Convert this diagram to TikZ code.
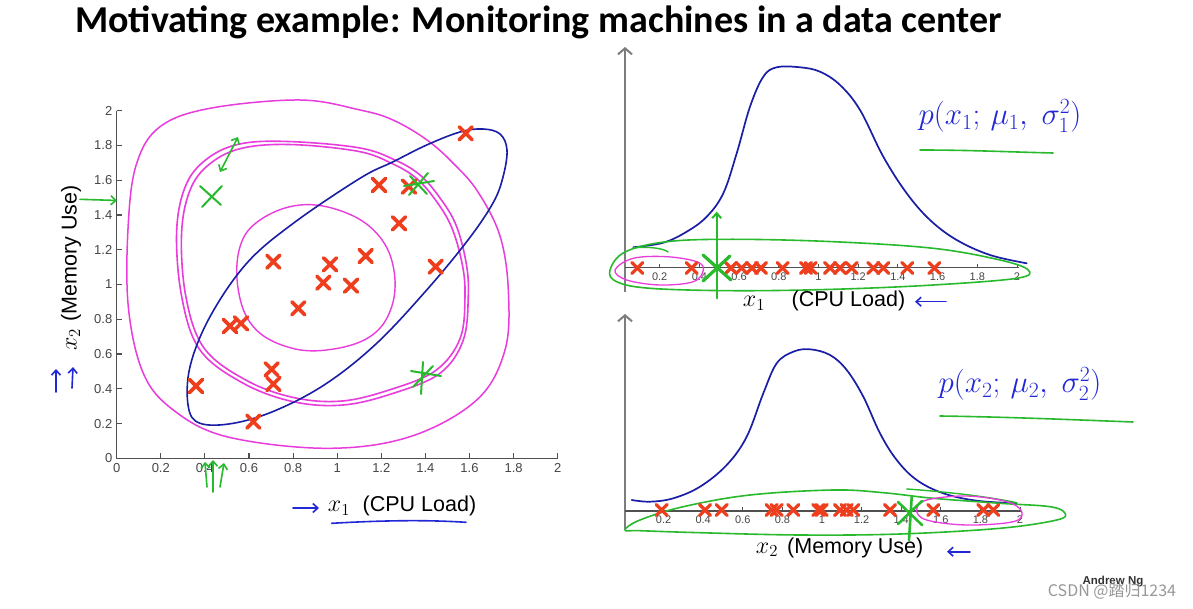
\documentclass[tikz,border=0pt]{standalone}
\usepackage{fix-cm}
\usepackage{fontspec}
\setsansfont{Liberation Sans}
\newfontfamily\titlef{Carlito}
\newfontfamily\cjk{Noto Sans CJK SC}
\usetikzlibrary{arrows.meta}
\definecolor{redc}{RGB}{238,62,30}
\definecolor{grn}{RGB}{40,185,45}
\definecolor{mag}{RGB}{232,60,220}
\definecolor{bcurve}{RGB}{25,30,165}
\definecolor{bhand}{RGB}{35,40,215}
\definecolor{axc}{RGB}{80,80,80}
\definecolor{tickc}{RGB}{70,70,70}
\definecolor{garrow}{RGB}{125,125,125}
\tikzset{
  rx/.pic={\draw[redc,line width=3.6pt,line cap=round] (-6.5,-6.5)--(6.5,6.5) (-6.5,6.5)--(6.5,-6.5);},
  rxs/.pic={\draw[redc,line width=3.2pt,line cap=round] (-5.5,-5.5)--(5.5,5.5) (-5.5,5.5)--(5.5,-5.5);},
  tickl/.style={font=\sffamily\fontsize{13}{13}\selectfont, text=tickc, inner sep=0pt},
  tickr/.style={font=\sffamily\fontsize{11}{11}\selectfont, text=tickc, inner sep=0pt},
  hand/.style={line width=1.7pt, line cap=round, line join=round},
  barb/.style={-{Straight Barb[length=5pt,width=9pt]}},
  axlab/.style={font=\sffamily\fontsize{21.5}{22}\selectfont, inner sep=0pt},
  mathlab/.style={font=\fontsize{24}{26}\selectfont, inner sep=0pt},
}
\begin{document}
\begin{tikzpicture}[x=1pt,y=-1pt]
\useasboundingbox (0,0) rectangle (1193,609);
\fill[white] (0,0) rectangle (1193,609);

% title
\node[anchor=base west, inner sep=0pt, font={\titlef\bfseries\fontsize{38}{40}\selectfont}] (title) at (75,33) {Motivating example: Monitoring machines in a data center};

% ---------------- left scatter plot ----------------
\draw[axc, line width=1.3pt] (116.7,110.7) -- (116.7,458.3) -- (557.7,458.3);
\foreach \i/\t in {0/0,1/0.2,2/0.4,3/0.6,4/0.8,5/1,6/1.2,7/1.4,8/1.6,9/1.8,10/2}{
  \draw[axc, line width=1.1pt] ({116.7+44.1*\i},458.3) -- ++(0,-5);
  \node[tickl, anchor=north] (lx\i) at ({116.7+44.1*\i},463) {\t};
  \draw[axc, line width=1.1pt] (116.7,{458.3-34.76*\i}) -- ++(5,0);
  \node[tickl, anchor=east] (ly\i) at (112.5,{458.3-34.76*\i}) {\t};
}

% magenta contours
\draw[mag, hand, line width=1.5pt] plot[smooth cycle, tension=0.6] coordinates {
 (360,110) (300,100) (210,108.3) (160,126.7) (136.7,163.3) (128.3,223.3) (128.3,306.7)
 (143.3,373.3) (173.3,410) (226.7,436.7) (326.7,448.3) (410,436.7) (476.7,400) (505,350)
 (508.3,290) (500,236) (478,192) (454,164) (427,140) (393,120)};
\draw[mag, hand, line width=1.6pt] plot[smooth cycle, tension=0.6] coordinates {
 (293.3,141.7) (360,148) (395,160) (420,175) (440,198) (456,225) (466,262) (468.3,295) (463.3,340) (440,373.3)
 (393.3,393.3) (343.3,405) (293.3,401.7) (243.3,383.3) (200,350) (181.7,296.7) (176.7,230)
 (186.7,183.3) (210,156.7) (243.3,143.3)};
\draw[mag, hand, line width=1.6pt] plot[smooth cycle, tension=0.6] coordinates {
 (295.3,144.7) (359,151.5) (392,163.5) (416,178) (435.5,200) (451.5,227) (462,263) (465,295) (460.3,338) (436,370.3)
 (391.3,389.3) (342.3,401) (294.3,397.7) (246.3,380.3) (204,348) (185.7,295.7) (181.7,231)
 (191.7,186.3) (214,160.7) (246.3,147.3)};
\draw[mag, hand, line width=1.4pt] plot[smooth cycle, tension=0.65] coordinates {
 (300,205) (343.3,211.7) (376.7,233.3) (393.3,266.7) (391.7,306.7) (370,336.7) (326.7,350)
 (286.7,346.7) (253.3,326.7) (238.3,290) (240,246.7) (260,220)};

% blue tilted contour
\draw[bcurve, hand, line width=1.6pt] plot[smooth cycle, tension=0.6] coordinates {
 (483,129) (500,134) (507,150) (503,177) (493,203) (468,240) (426.7,290) (376.7,343.3)
 (326.7,383.3) (276.7,410) (233.3,423.3) (200,423.3) (188.3,406.7) (190,366.7) (210,316.7)
 (246.7,263.3) (293.3,223.3) (360,178.3) (393.3,161.7) (426.7,145) (460,132)};

% red data points
\foreach \a/\b in {465.7/133.3, 379/185, 409/186.7, 399/223.3, 365.7/256, 435.7/266.7,
  273.3/261.7, 330/264.3, 323.3/282.7, 351/285.7, 298.3/308.3, 230/326, 241/323.3,
  271.7/369.3, 273.3/384, 196/386, 253.3/421.7}
  \pic at (\a,\b) {rx};

% green anomalies and arrows (left)
\draw[grn, hand, line width=2pt] (200,186)--(221,205) (202,207)--(222,186);
\draw[grn, hand, line width=2pt] (409,195)--(428,173) (410,176)--(427,194) (404,186)--(434,181);
\draw[grn, hand, line width=2pt] (411,371)--(441,376) (423,362)--(421,394) (413,387)--(433,366);
\draw[grn, hand, line width=1.6pt, barb] (80,199.3) -- (117,200.5);
\draw[grn, hand, line width=1.6pt, {Straight Barb[length=5pt,width=9pt]}-{Straight Barb[length=5pt,width=9pt]}] (238,137) -- (220,172);
\draw[grn, hand, line width=1.6pt, barb] (207,487) -- (205,462);
\draw[grn, hand, line width=1.6pt, barb] (213,492) -- (213,460);
\draw[grn, hand, line width=1.6pt, barb] (220,487) -- (224,463);

% blue pen marks (left)
\draw[bhand, hand, line width=1.6pt, barb] (56,392) -- (56,369);
\draw[bhand, hand, line width=1.6pt, barb] (72,388) -- (73,367);
\draw[bhand, hand, line width=1.6pt, barb] (293,508) -- (319,508);
\draw[bhand, hand, line width=1.6pt] (331.7,523.3) .. controls (390,520) and (430,520) .. (466,522.3);

% axis labels (left)
\node[mathlab, anchor=base] (lx1) at (339,511.5) {$x_1$};
\node[axlab, anchor=base west] (lcpu) at (362.5,511.5) {(CPU Load)};
\node[rotate=90, anchor=base west, inner sep=0pt] (lmem) at (76.5,351) {{\fontsize{24}{26}\selectfont$x_2$}\hspace{7pt}{\sffamily\fontsize{21.5}{22}\selectfont(Memory Use)}};

% ---------------- top right plot ----------------
\draw[garrow, line width=2pt, -{Straight Barb[length=6pt,width=14pt]}] (625,292) -- (625,47);
\draw[axc, line width=1.3pt] (625,267.7) -- (1019,267.7);
\foreach \i/\t in {1/0.2,2/0.4,3/0.6,4/0.8,5/1,6/1.2,7/1.4,8/1.6,9/1.8,10/2}{
  \draw[axc, line width=1pt] ({620+39.7*\i},267.7) -- ++(0,-4);
  \node[tickr, anchor=north] (tx\i) at ({620+39.7*\i},272.5) {\t};
}
\draw[bcurve, hand] plot[smooth, tension=0.6] coordinates {
 (633.3,247.3) (663.3,242.7) (686.7,231.7) (706.7,216.7) (723.3,193.3) (736.7,153.3) (750,106.7)
 (763.3,76.7) (776.7,67.3) (800,67.3) (820,71.7) (840,85) (860,110) (883.3,156.7) (906.7,193.3)
 (930,220) (956.7,240) (990,255) (1026.7,263.3)};
\draw[grn, hand, line width=1.6pt] plot[smooth cycle, tension=0.6] coordinates {
 (610,270) (625,252) (666.7,241.7) (733.3,239.3) (833.3,241.7) (933.3,248.3) (1000,260) (1028.3,270)
 (1016.7,278.3) (933.3,285) (833.3,289.3) (733.3,290.7) (650,288.3) (616.7,281.7)};
\draw[grn, hand, line width=1.4pt] (633,248) .. controls (650,246) and (665,249) .. (668,252);
\draw[mag, hand, line width=1.3pt] plot[smooth cycle, tension=0.6] coordinates {
 (615,270) (633.3,258.3) (666.7,256.7) (696.7,261.7) (703.3,270) (693.3,281.7) (660,285) (626.7,280)};
\foreach \a in {637.3, 691.7, 731, 741.7, 752, 761, 782.7, 806, 810.7, 830, 840, 851.7, 873.3, 883.3, 907.3, 934.3}
  \pic at (\a,268) {rxs};
\draw[grn, hand, line width=2pt, barb] (716.7,298.3) -- (716.7,211.7);
\draw[grn, hand, line width=3.2pt] (703,255)--(731,280) (703,281)--(730,256);
\draw[bhand, hand, line width=1.6pt, barb] (946,301.7) -- (915,301.7);
\node[mathlab, anchor=base] (tx1) at (754,306.7) {$x_1$};
\node[axlab, anchor=base west] (tcpu) at (791.5,306.7) {(CPU Load)};
\node[inner sep=0pt, text=bhand, font=\fontsize{31}{33}\selectfont] (f1) at (1000,116) {$p(x_1;\,\mu_1,\;\sigma_1^2)$};
\draw[grn, hand, line width=1.6pt] (920,150) .. controls (970,150) and (1010,152) .. (1053,153);

% ---------------- bottom right plot ----------------
\draw[garrow, line width=2pt, -{Straight Barb[length=6pt,width=14pt]}] (625,530) -- (625,314);
\draw[axc, line width=1.3pt] (625,511) -- (1021,511);
\foreach \i/\t in {1/0.2,2/0.4,3/0.6,4/0.8,5/1,6/1.2,7/1.4,8/1.6,9/1.8,10/2}{
  \draw[axc, line width=1pt] ({624+39.6*\i},511) -- ++(0,-4);
  \node[tickr, anchor=north] (bx\i) at ({624+39.6*\i},516) {\t};
}
\draw[bcurve, hand] plot[smooth, tension=0.6] coordinates {
 (631.7,500) (650,501.7) (673.3,498.3) (700,486.7) (726.7,465) (746.7,436.7) (763.3,393.3)
 (776.7,363.3) (793.3,351.7) (810,349.3) (830,355) (846.7,370) (863.3,396.7) (880,433.3)
 (896.7,460) (916.7,480) (943.3,493.3) (976.7,500.7) (1016.7,503.3)};
\draw[grn, hand, line width=1.6pt] plot[smooth cycle, tension=0.6] coordinates {
 (625,530) (640,520) (683.3,506.7) (750,495) (833.3,490) (883.3,492.7) (933.3,498.3) (1000,503.3)
 (1050,506.7) (1065,513.3) (1056.7,520) (1000,528.3) (900,534) (800,535) (700,532.7) (640,530.7)};
\draw[grn, hand, line width=1.4pt] (906.7,489) .. controls (950,492) and (990,497) .. (1016.7,502.7);
\draw[mag, hand, line width=1.3pt] plot[smooth cycle, tension=0.6] coordinates {
 (916.7,510) (926.7,500) (966.7,496) (1006.7,501.7) (1021.7,511.7) (1013.3,521.7) (966.7,525) (926.7,520)};
\foreach \a in {661.7, 705, 721.7, 771.7, 776.7, 793.3, 818.3, 821.7, 840, 846.7, 853.3, 890, 933.3, 983.3, 993.3}
  \pic at (\a,510) {rxs};
\draw[grn, hand, line width=2.6pt] (911.7,497) -- (909,540) (898,502)--(922,525) (898,524)--(922,501);
\draw[bhand, hand, line width=1.6pt, barb] (970,551.7) -- (947,551.7);
\node[mathlab, anchor=base] (bx2) at (767,553.3) {$x_2$};
\node[axlab, anchor=base west] (bmem) at (787,553.3) {(Memory Use)};
\node[inner sep=0pt, text=bhand, font=\fontsize{31}{33}\selectfont] (f2) at (1020,384) {$p(x_2;\,\mu_2,\;\sigma_2^2)$};
\draw[grn, hand, line width=1.6pt] (940,416) .. controls (1010,417) and (1080,420) .. (1133,422);

% watermark
\node[inner sep=0pt, font=\sffamily\bfseries\fontsize{11.5}{12}\selectfont, text=black!80] (andrew) at (1113,582) {Andrew Ng};
\node[inner sep=0pt, font=\cjk\fontsize{16}{17}\selectfont, text=black!45, opacity=0.9] (csdn) at (1112,591) {CSDN @踏归1234};
\end{tikzpicture}
\end{document}
